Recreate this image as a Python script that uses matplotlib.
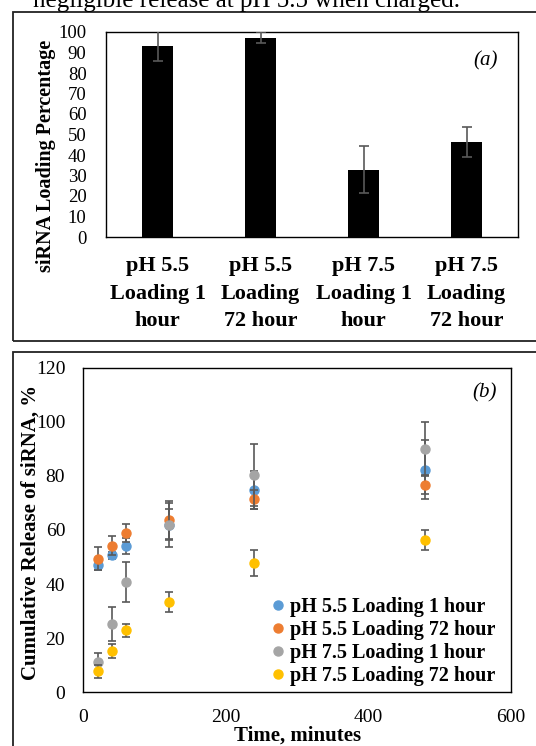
"""Two-panel figure: siRNA loading (a) and cumulative release (b)"""

import matplotlib
matplotlib.use("Agg")
import matplotlib.pyplot as plt
from matplotlib.patches import Rectangle

plt.rcParams['font.family'] = ['Liberation Serif', 'DejaVu Serif']

# panel (a) data
categories = ["pH 5.5\nLoading 1\nhour", "pH 5.5\nLoading\n72 hour",
              "pH 7.5\nLoading 1\nhour", "pH 7.5\nLoading\n72 hour"]
loading = [93.3, 97.2, 32.8, 46.2]
loading_err = [7.5, 2.6, 11.5, 7.3]

# panel (b) data
times = [20, 40, 60, 120, 240, 480]
labels = ["pH 5.5 Loading 1 hour", "pH 5.5 Loading 72 hour",
          "pH 7.5 Loading 1 hour", "pH 7.5 Loading 72 hour"]
rel_55_1 = [46.9, 50.6, 54.1, 62.0, 74.7, 82.3]
rel_55_72 = [49.4, 54.2, 58.8, 63.6, 71.3, 76.8]
rel_75_1 = [11.2, 25.3, 40.7, 61.8, 80.2, 89.9]
rel_75_72 = [7.8, 15.2, 23.0, 33.3, 47.8, 56.3]
err_55_1 = [1.7, 1.2, 3.0, 5.8, 7.0, 11.0]
err_55_72 = [4.3, 3.4, 3.4, 7.0, 3.5, 3.5]
err_75_1 = [3.2, 6.4, 7.3, 8.0, 11.5, 10.0]
err_75_72 = [2.4, 2.6, 2.4, 3.6, 4.7, 3.8]
colors = ["#5B9BD5", "#ED7D31", "#A5A5A5", "#FFC000"]

fig = plt.figure(figsize=(5.36, 7.46), dpi=100)

# cut-off caption line from the document above
fig.text(33 / 536, 1 - 7 / 746, "negligible release at pH 5.5 when charged.",
         fontsize=18, va='baseline', ha='left')

# panel borders
fig.patches.append(Rectangle((13 / 536, 1 - 341 / 746), 1.0, 329 / 746,
                             transform=fig.transFigure, fill=False,
                             edgecolor='#222222', linewidth=1.3))
fig.patches.append(Rectangle((13 / 536, -0.05), 1.0, 1 - 351.7 / 746 + 0.05,
                             transform=fig.transFigure, fill=False,
                             edgecolor='#222222', linewidth=1.3))

# ---- panel (a)
ax1 = fig.add_axes([106 / 536, 1 - 237 / 746, 412 / 536, 205 / 746])
x = range(len(categories))
ax1.bar(x, loading, width=0.31, color='black', zorder=2)
ax1.errorbar(x, loading, yerr=loading_err, fmt='none', ecolor='#595959',
             elinewidth=1.2, capsize=3.5, capthick=1.2, zorder=3)
ax1.set_xlim(-0.5, 3.5)
ax1.set_ylim(0, 100)
ax1.set_yticks(range(0, 101, 10))
ax1.set_xticks(list(x))
ax1.set_xticklabels(categories, fontsize=16, fontweight='bold',
                    linespacing=1.48)
ax1.tick_params(axis='y', length=0, pad=14, labelsize=13.5)
ax1.tick_params(axis='x', length=0, pad=14)
ax1.set_ylabel("siRNA Loading Percentage", fontsize=14.5, fontweight='bold')
ax1.yaxis.set_label_coords(-0.121, 0.395)
ax1.text(0.95, 0.86, "(a)", transform=ax1.transAxes, fontsize=15,
         style='italic', ha='right', va='center')
for s in ax1.spines.values():
    s.set_linewidth(1.0)
    s.set_color('black')

# ---- panel (b)
ax2 = fig.add_axes([83.3 / 536, 1 - 692.3 / 746, 427.7 / 536, 324.6 / 746])
series = [(rel_55_1, err_55_1), (rel_55_72, err_55_72),
          (rel_75_1, err_75_1), (rel_75_72, err_75_72)]
for i, (vals, errs) in enumerate(series):
    ax2.errorbar(times, vals, yerr=errs, fmt='o', color=colors[i],
                 markersize=6.5, ecolor='#595959', elinewidth=1.2,
                 capsize=3, capthick=1.2, label=labels[i], zorder=3 + i)
ax2.set_xlim(0, 600)
ax2.set_ylim(0, 120)
ax2.set_xticks([0, 200, 400, 600])
ax2.set_yticks(range(0, 121, 20))
ax2.tick_params(length=0, labelsize=14)
ax2.tick_params(axis='y', pad=13)
ax2.tick_params(axis='x', pad=12)
ax2.set_xlabel("Time, minutes", fontsize=15, fontweight='bold', labelpad=0)
ax2.set_ylabel("Cumulative Release of siRNA, %", fontsize=15,
               fontweight='bold')
ax2.yaxis.set_label_coords(-0.101, 0.492)
ax2.text(0.967, 0.922, "(b)", transform=ax2.transAxes, fontsize=15,
         style='italic', ha='right', va='center')
for s in ax2.spines.values():
    s.set_linewidth(1.0)
    s.set_color('black')

handles, labs = ax2.get_legend_handles_labels()
handles = [h[0] for h in handles]
ax2.legend(handles, labs, loc='lower left', bbox_to_anchor=(0.407, -0.023),
           frameon=False, prop={'weight': 'bold', 'size': 14.5},
           handlelength=0.6, handletextpad=0.3, labelspacing=0.15,
           borderpad=0.2)

fig.savefig("out.png", dpi=100)
